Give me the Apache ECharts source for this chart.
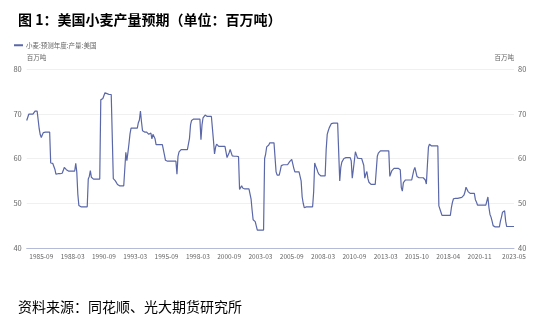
<!DOCTYPE html>
<html><head><meta charset="utf-8">
<script src="https://cdn.jsdelivr.net/npm/echarts@6/dist/echarts.min.js"></script>
<style>html,body{margin:0;padding:0;background:#fff;}#chart{width:534px;height:321px;}</style>
</head><body><div id="chart"></div>
<script>
const titleText = '图 1：美国小麦产量预期（单位：百万吨）';
const sourceText = '资料来源：同花顺、光大期货研究所';
const seriesName = '小麦:预测年度:产量:美国';
const unitName = '百万吨';
const tickLabels = ['1985-09','1988-03','1990-09','1993-03','1995-09','1998-03','2000-09','2003-03','2005-09','2008-03','2010-09','2013-03','2015-10','2018-04','2020-11','2023-05'];
const yMin = 40, yMax = 80, yStep = 10;
const startMonth = '1984-07';
const endMonth = '2023-05';
const skippedMonths = ['2013-10', '2019-01'];
const repeatedMonths = ['2021-06', '2022-06', '2022-09'];
const production = [
68.5,68.9,69.9,69.9,69.9,69.9,69.9,70.3,70.6,70.6,
70.6,68.6,66.6,65.3,64.7,65.3,65.8,65.9,65.9,65.9,65.9,65.9,
65.9,59.0,58.7,58.9,58.8,57.6,56.5,56.6,56.6,56.6,56.6,56.6,
56.7,57.3,58.0,57.8,57.5,57.3,57.2,57.2,57.2,57.2,57.2,57.2,
57.2,58.9,57.0,52.0,49.5,49.2,49.2,49.2,49.2,49.2,49.2,49.2,
49.2,55.4,56.0,57.3,55.8,55.5,55.4,55.4,55.4,55.4,55.4,55.4,
55.4,73.1,73.2,73.4,73.6,74.7,74.6,74.5,74.3,74.3,74.3,74.3,
74.3,55.5,55.3,55.0,54.6,54.2,53.9,53.9,53.9,53.9,53.9,53.9,
53.9,61.4,59.5,61.3,63.3,65.5,66.8,66.8,66.8,66.8,66.8,66.8,
66.8,68.0,68.6,70.6,68.2,66.2,66.0,65.9,65.9,65.9,65.6,65.4,
65.5,65.7,64.4,65.4,65.6,64.4,63.1,63.1,63.1,63.1,63.1,63.1,
63.1,63.0,60.8,59.6,59.4,59.4,59.4,59.4,59.4,59.4,59.4,59.4,
59.4,59.4,56.5,60.5,61.5,61.9,62.0,62.0,62.0,62.0,62.0,62.0,
62.0,62.0,64.5,67.5,68.5,68.6,68.8,68.8,68.8,68.8,68.8,68.8,
68.8,64.2,67.5,69.1,69.5,69.7,69.5,69.4,69.4,69.4,69.4,69.4,
69.4,64.0,61.0,62.5,63.2,62.9,62.7,62.7,62.7,62.7,62.7,62.7,
62.7,61.5,60.2,60.5,61.3,62.0,62.4,60.6,60.5,60.5,60.5,60.5,
60.5,60.4,53.1,53.5,53.9,53.4,53.1,53.2,53.2,53.2,53.2,53.2,
53.2,51.0,48.5,46.3,46.1,45.9,45.7,44.0,44.0,44.0,44.0,44.0,
44.0,44.0,60.0,61.0,62.6,62.3,63.0,63.5,63.5,63.5,63.5,63.5,
63.5,57.0,56.3,55.9,56.3,57.3,58.4,58.6,58.6,58.6,58.6,58.6,
58.6,58.7,59.3,58.9,59.8,58.8,57.8,57.0,57.0,57.0,57.0,57.0,
57.0,55.0,51.4,50.0,49.0,49.0,49.2,49.2,49.2,49.2,49.2,49.2,
49.2,52.5,59.0,58.3,57.7,57.0,56.5,56.2,56.1,56.1,56.1,56.1,
56.1,62.0,65.4,66.2,66.9,67.3,67.8,67.9,67.9,67.9,67.9,67.9,
67.9,67.8,55.0,58.0,59.2,59.6,60.0,60.2,60.2,60.2,60.2,60.2,
60.2,59.5,55.6,57.5,59.5,61.5,60.8,60.1,60.0,60.0,60.0,60.0,
60.0,58.5,55.6,56.5,57.1,55.5,54.7,54.3,54.2,54.2,54.2,54.2,
54.2,54.2,60.5,61.2,61.5,61.7,61.7,61.7,61.7,61.7,61.7,61.7,
61.7,61.7,56.0,56.7,57.3,57.6,57.8,57.8,57.8,57.8,57.8,57.8,
57.5,53.5,52.7,54.6,55.0,55.2,55.2,55.2,55.2,55.2,55.2,55.2,
55.2,57.4,58.0,58.3,56.0,55.7,55.7,55.7,55.7,55.7,55.7,55.7,
55.2,54.3,58.5,62.5,63.2,63.0,62.8,62.8,62.8,62.8,62.8,62.8,
62.8,49.4,49.0,48.0,47.3,47.3,47.3,47.3,47.3,47.3,47.3,47.3,
47.3,49.0,50.2,51.0,51.1,51.1,51.1,51.1,51.2,51.2,51.2,51.3,
51.5,51.8,52.5,53.6,53.2,52.6,52.3,52.2,52.2,52.2,52.2,52.2,
50.8,50.3,49.6,49.6,49.6,49.6,49.6,49.6,49.6,49.6,49.6,50.0,
51.4,49.0,47.5,46.9,46.0,45.0,44.7,44.7,44.7,44.7,44.7,44.7,
46.0,46.9,48.0,48.3,48.3,46.0,44.8,44.8,44.8,44.8,44.8,44.8,
44.8,44.8
];

// monthly categories (report months)
const categories = [];
(function () {
  let y = +startMonth.slice(0, 4), m = +startMonth.slice(5, 7);
  while (true) {
    const s = y + '-' + String(m).padStart(2, '0');
    if (!skippedMonths.includes(s)) {
      categories.push(s);
      if (repeatedMonths.includes(s)) categories.push(s);
    }
    if (s === endMonth) break;
    m++; if (m > 12) { m = 1; y++; }
  }
})();
const labelIndexSet = new Set(tickLabels.map(t => categories.indexOf(t)));

const FONT = '"Noto Sans CJK SC", "Noto Sans", sans-serif';
const chart = echarts.init(document.getElementById('chart'), null, { renderer: 'canvas' });
chart.setOption({
  backgroundColor: '#fff',
  animation: false,
  title: [
    { text: titleText, left: 13, top: 8, textStyle: { fontFamily: FONT, fontSize: 14, fontWeight: 'bold', color: '#000' } },
    { text: sourceText, left: 13, top: 295, textStyle: { fontFamily: FONT, fontSize: 14, fontWeight: 'normal', color: '#000' } }
  ],
  legend: {
    left: 14, top: 42, itemWidth: 9, itemHeight: 2, itemGap: 10, padding: 0,
    icon: 'rect',
    textStyle: { fontFamily: FONT, fontSize: 6.5, color: '#666', padding: [0, 0, 0, -2] },
    data: [seriesName]
  },
  grid: { left: 26.7, right: 20, top: 69, bottom: 73, containLabel: false },
  xAxis: {
    type: 'category', boundaryGap: false, data: categories,
    axisLine: { lineStyle: { color: '#b4bbd8', width: 1 } },
    axisTick: { show: false },
    axisLabel: {
      interval: (index) => labelIndexSet.has(index),
      fontFamily: FONT, fontSize: 6.5, color: '#666', margin: 5, showMaxLabel: true
    },
    splitLine: { show: false }
  },
  yAxis: [
    {
      type: 'value', min: yMin, max: yMax, interval: yStep, position: 'left',
      name: unitName, nameGap: 8,
      nameTextStyle: { fontFamily: FONT, fontSize: 6.5, color: '#666', align: 'left' },
      axisLine: { show: false }, axisTick: { show: false },
      axisLabel: { fontFamily: FONT, fontSize: 7.5, color: '#666', margin: 5 },
      splitLine: { lineStyle: { color: '#f0f0f0', width: 1 } }
    },
    {
      type: 'value', min: yMin, max: yMax, interval: yStep, position: 'right',
      name: unitName, nameGap: 8,
      nameTextStyle: { fontFamily: FONT, fontSize: 6.5, color: '#666', align: 'right' },
      axisLine: { show: false }, axisTick: { show: false },
      axisLabel: { fontFamily: FONT, fontSize: 7.5, color: '#666', margin: 4 },
      splitLine: { show: false }
    }
  ],
  series: [{
    name: seriesName, type: 'line', data: production, yAxisIndex: 0,
    symbol: 'none', smooth: false,
    lineStyle: { color: '#5a67a8', width: 1.2 },
    itemStyle: { color: '#5a67a8' }
  }]
});
</script></body></html>
